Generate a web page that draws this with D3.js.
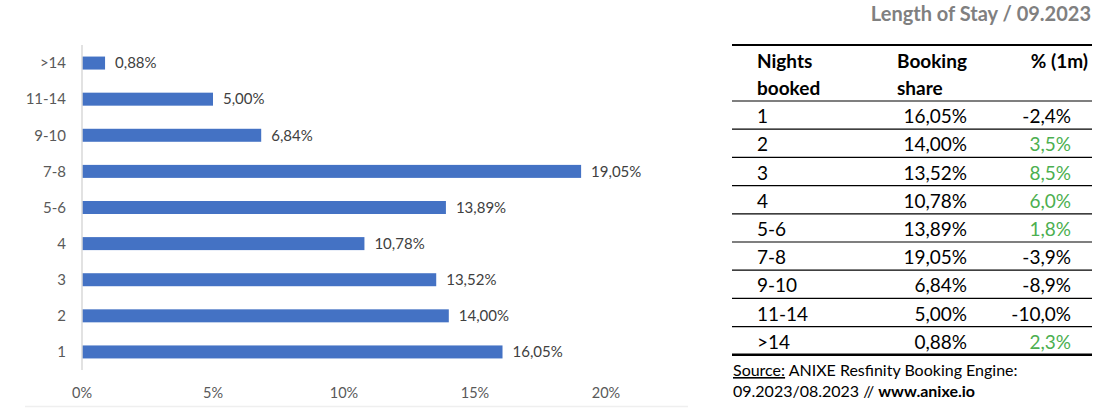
<!DOCTYPE html>
<html><head><meta charset="utf-8">
<script src="https://cdn.jsdelivr.net/npm/d3@7"></script>
<style>
html,body{margin:0;padding:0;background:#fff;}
svg{display:block;font-family:Lato,"Open Sans",sans-serif;}
</style></head>
<body><svg id="c" width="1100" height="410"></svg>
<script>
const nights = ["1","2","3","4","5-6","7-8","9-10","11-14",">14"];
const share = [16.05,14.00,13.52,10.78,13.89,19.05,6.84,5.00,0.88];
const change1m = [-2.4,3.5,8.5,6.0,1.8,-3.9,-8.9,-10.0,2.3];
const xTicks = [0,5,10,15,20];
const title = "Length of Stay / 09.2023";
const headers = [["Nights","booked"],["Booking","share"],["% (1m)"]];

const svg = d3.select("#c");
const comma = (f) => (v) => f(v).replace(".", ",").replace("\u2212", "-");
const fmtShare = comma(d3.format(".2f"));
const fmtChg = comma(d3.format(".1f"));

// ---- bar chart ----
const x = d3.scaleLinear().domain([0,20]).range([82,606]);
const y = d3.scaleBand().domain(nights.slice().reverse()).range([45,370]).paddingInner(0.64).paddingOuter(0.32);

svg.append("line").attr("x1",25).attr("x2",688).attr("y1",406.5).attr("y2",406.5)
  .attr("stroke","#efefef").attr("stroke-width",1.5);

svg.append("g").selectAll("rect").data(nights).join("rect")
  .attr("x", x(0)).attr("y", d => y(d))
  .attr("width", (d,i) => x(share[i]) - x(0)).attr("height", y.bandwidth())
  .attr("fill","#4472c4");

svg.append("line").attr("x1",x(0)).attr("x2",x(0)).attr("y1",45).attr("y2",370)
  .attr("stroke","#d9d9d9").attr("stroke-width",1.5);

svg.append("g").selectAll("text").data(nights).join("text")
  .attr("x", 66).attr("y", d => y(d) + y.bandwidth()/2).attr("dy","0.35em")
  .attr("text-anchor","end").attr("font-size",15).attr("fill","#595959")
  .text(d => d);

svg.append("g").selectAll("text").data(nights).join("text")
  .attr("x", (d,i) => x(share[i]) + 10).attr("y", d => y(d) + y.bandwidth()/2).attr("dy","0.35em")
  .attr("font-size",15).attr("fill","#404040")
  .text((d,i) => fmtShare(share[i]) + "%");

svg.append("g").selectAll("text").data(xTicks).join("text")
  .attr("x", d => x(d)).attr("y", 393).attr("dy","0.35em")
  .attr("text-anchor","middle").attr("font-size",14.5).attr("fill","#595959")
  .text(d => d + "%");

// ---- title ----
svg.append("text").attr("x",1091).attr("y",21).attr("text-anchor","end")
  .attr("font-size",20).attr("font-weight","bold").attr("fill","#808080").text(title);

// ---- table ----
const tL = 732, tR = 1092, rowTop = 101, rowH = 28.2;
const cx1 = 757, cx2 = 967, cx3 = 1071;
svg.append("line").attr("x1",tL).attr("x2",tR).attr("y1",45).attr("y2",45).attr("stroke","#000").attr("stroke-width",2);
svg.append("line").attr("x1",tL).attr("x2",tR).attr("y1",rowTop).attr("y2",rowTop).attr("stroke","#000").attr("stroke-width",1.2);

const hdr = svg.append("g").attr("font-size",19).attr("font-weight","bold").attr("fill","#000");
headers[0].forEach((t,i)=>hdr.append("text").attr("x",cx1).attr("y",68+i*27).text(t));
headers[1].forEach((t,i)=>hdr.append("text").attr("x",897).attr("y",68+i*27).text(t));
headers[2].forEach((t,i)=>hdr.append("text").attr("x",1088).attr("y",68+i*27).attr("text-anchor","end").text(t));

const rows = svg.append("g").selectAll("g").data(nights).join("g")
  .attr("transform",(d,i)=>`translate(0,${rowTop + (i+1)*rowH})`);
rows.append("line").attr("x1",tL).attr("x2",tR)
  .attr("stroke","#000").attr("stroke-width",(d,i)=> i===nights.length-1 ? 2.5 : 1.2);
rows.append("text").attr("x",cx1).attr("y",-6).attr("font-size",19).attr("fill","#000").text(d=>d);
rows.append("text").attr("x",cx2).attr("y",-6).attr("text-anchor","end").attr("font-size",19).attr("fill","#000")
  .text((d,i)=>fmtShare(share[i])+"%");
rows.append("text").attr("x",cx3).attr("y",-6).attr("text-anchor","end").attr("font-size",19)
  .attr("fill",(d,i)=> change1m[i] > 0 ? "#4caf50" : "#000")
  .text((d,i)=>fmtChg(change1m[i])+"%");

// ---- source ----
const s1 = svg.append("text").attr("x",733).attr("y",376).attr("font-size",16).attr("fill","#000");
s1.append("tspan").attr("text-decoration","underline").text("Source:");
s1.append("tspan").text(" ANIXE Resfinity Booking Engine:");
const s2 = svg.append("text").attr("x",733).attr("y",397).attr("font-size",16).attr("fill","#000");
s2.append("tspan").text("09.2023/08.2023 // ");
s2.append("tspan").attr("font-weight","bold").text("www.anixe.io");
</script></body></html>
